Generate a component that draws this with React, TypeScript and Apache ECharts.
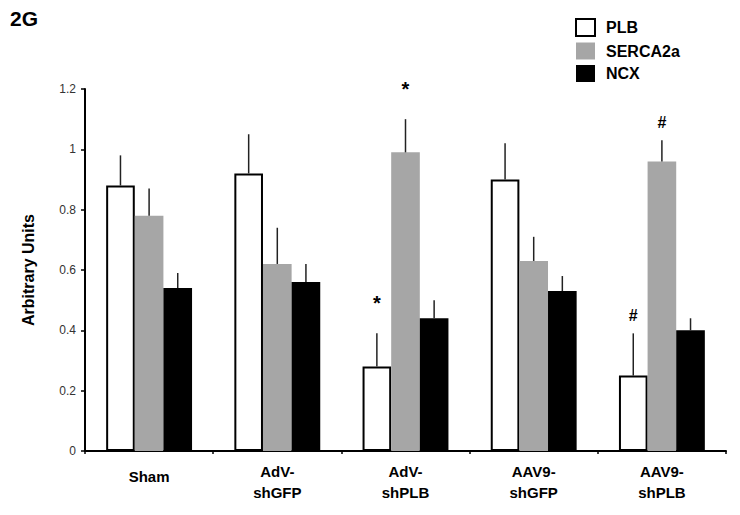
import React, { useEffect, useRef } from "react";
import * as echarts from "echarts";

const categories = ["Sham", "AdV-\nshGFP", "AdV-\nshPLB", "AAV9-\nshGFP", "AAV9-\nshPLB"];
const seriesNames = ["PLB", "SERCA2a", "NCX"];
const plbValues = [0.88, 0.92, 0.28, 0.9, 0.25];
const sercaValues = [0.78, 0.62, 0.99, 0.63, 0.96];
const ncxValues = [0.54, 0.56, 0.44, 0.53, 0.4];
const plbErrTop = [0.98, 1.05, 0.39, 1.02, 0.39];
const sercaErrTop = [0.87, 0.74, 1.1, 0.71, 1.03];
const ncxErrTop = [0.59, 0.62, 0.5, 0.58, 0.44];
const plbMarks = ["", "", "*", "", "#"];
const sercaMarks = ["", "", "*", "", "#"];
const ncxMarks = ["", "", "", "", ""];
const yTicks = { min: 0, max: 1.2, interval: 0.2 };

const FONT = "'Liberation Sans', Arial, Helvetica, sans-serif";
const CAT_GAP = 0.33;

export default function App() {
  const ref = useRef<HTMLDivElement>(null);
  useEffect(() => {
    if (!ref.current) return;
    const chart = echarts.init(ref.current, undefined, { renderer: "svg" });
    const values = [plbValues, sercaValues, ncxValues];
    const errs = [plbErrTop, sercaErrTop, ncxErrTop];
    const marks = [plbMarks, sercaMarks, ncxMarks];
    const errData: any[] = [];
    const errMarks: string[] = [];
    for (let s = 0; s < 3; s++) {
      for (let c = 0; c < categories.length; c++) {
        errData.push([c, values[s][c], errs[s][c], s]);
        errMarks.push(marks[s][c]);
      }
    }
    const option: any = {
      animation: false,
      backgroundColor: "#ffffff",
      textStyle: { fontFamily: FONT },
      graphic: [
        {
          type: "text",
          left: 10,
          top: 8,
          style: { text: "2G", font: `bold 21px ${FONT}`, fill: "#000" },
        },
      ],
      legend: {
        data: seriesNames,
        orient: "vertical",
        left: 575,
        top: 18,
        padding: 0,
        itemWidth: 19,
        itemHeight: 17,
        itemGap: 5.5,
        icon: "rect",
        textStyle: { fontFamily: FONT, fontWeight: "bold", fontSize: 16, color: "#000", padding: [0, 0, 0, 6] },
        selectedMode: false,
      },
      grid: { left: 85, right: 14, top: 89, bottom: 64, containLabel: false },
      xAxis: {
        type: "category",
        data: categories,
        axisLine: { lineStyle: { color: "#000", width: 2 } },
        axisTick: { show: true, length: 3, lineStyle: { color: "#000", width: 1.5 } },
        axisLabel: {
          fontFamily: FONT,
          fontWeight: "bold",
          fontSize: 15,
          color: "#000",
          lineHeight: 21,
          margin: 10,
          formatter: (v: string) => (v.indexOf("\n") < 0 ? `{a|${v}}` : v),
          rich: {
            a: { fontFamily: FONT, fontWeight: "bold", fontSize: 15, color: "#000", lineHeight: 31 },
          },
        },
      },
      yAxis: {
        type: "value",
        min: yTicks.min,
        max: yTicks.max,
        interval: yTicks.interval,
        name: "Arbitrary Units",
        nameLocation: "middle",
        nameGap: 49,
        nameTextStyle: { fontFamily: FONT, fontWeight: "bold", fontSize: 16, color: "#000" },
        splitLine: { show: false },
        axisLine: { show: true, lineStyle: { color: "#000", width: 2 } },
        axisTick: { show: true, length: 4, lineStyle: { color: "#000", width: 1.5 } },
        axisLabel: { fontFamily: FONT, fontSize: 12, color: "#333", margin: 9 },
      },
      series: [
        {
          name: "PLB",
          type: "bar",
          data: plbValues,
          barGap: "0%",
          barCategoryGap: "33%",
          itemStyle: { color: "#ffffff", borderColor: "#000", borderWidth: 2 },
        },
        {
          name: "SERCA2a",
          type: "bar",
          data: sercaValues,
          barGap: "0%",
          barCategoryGap: "33%",
          itemStyle: { color: "#a6a6a6" },
        },
        {
          name: "NCX",
          type: "bar",
          data: ncxValues,
          barGap: "0%",
          barCategoryGap: "33%",
          itemStyle: { color: "#000000" },
        },
        {
          type: "custom",
          name: "errors",
          z: 10,
          data: errData,
          renderItem: (params: any, api: any) => {
            const c = api.value(0);
            const v = api.value(1);
            const e = api.value(2);
            const s = api.value(3);
            const catW = api.size([1, 0])[0];
            const bw = (catW * (1 - CAT_GAP)) / 3;
            const base = api.coord([c, v]);
            const topP = api.coord([c, e]);
            const x = base[0] + (s - 1) * bw;
            const children: any[] = [
              {
                type: "line",
                shape: { x1: x, y1: base[1], x2: x, y2: topP[1] },
                style: { stroke: "#222", lineWidth: 1.5 },
              },
            ];
            const m = errMarks[params.dataIndex];
            if (m) {
              const isStar = m === "*";
              children.push({
                type: "text",
                x: x,
                y: topP[1] - (isStar ? 30 : 18),
                style: {
                  text: m,
                  font: `bold ${isStar ? 20 : 16}px ${FONT}`,
                  fill: "#000",
                  align: "center",
                  verticalAlign: "middle",
                },
              });
            }
            return { type: "group", children };
          },
        },
      ],
    };
    chart.setOption(option);
    return () => chart.dispose();
  }, []);
  return (
    <div
      ref={ref}
      style={{ position: "fixed", left: 0, top: 0, width: 740, height: 515, background: "#fff" }}
    />
  );
}
